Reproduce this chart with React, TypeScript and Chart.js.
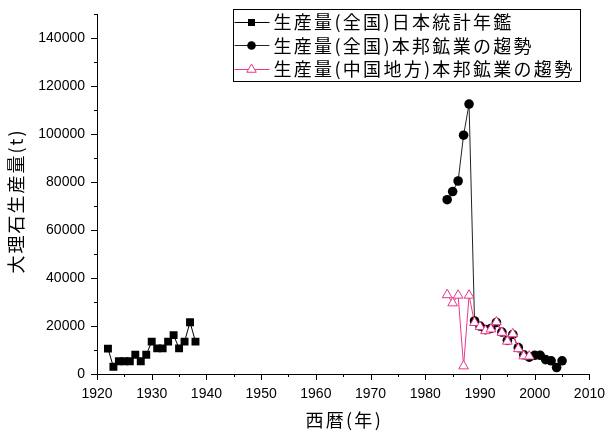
import React, { useEffect, useRef } from 'react';
import { Chart, registerables } from 'chart.js';

Chart.register(...registerables);

// ---- data ----
const seriesLabels = [
  '生産量(全国)日本統計年鑑',
  '生産量(全国)本邦鉱業の趨勢',
  '生産量(中国地方)本邦鉱業の趨勢',
];

const years1 = [1922, 1923, 1924, 1925, 1926, 1927, 1928, 1929, 1930, 1931, 1932, 1933, 1934, 1935, 1936, 1937, 1938];
const values1 = [10600, 3000, 5300, 5300, 5300, 8000, 5300, 8000, 13500, 10700, 10700, 13500, 16200, 10700, 13500, 21600, 13500];

const years2 = [1984, 1985, 1986, 1987, 1988, 1989, 1990, 1991, 1992, 1993, 1994, 1995, 1996, 1997, 1998, 1999, 2000, 2001, 2002, 2003, 2004, 2005];
const values2 = [72700, 76100, 80500, 99600, 112600, 22100, 20000, 18500, 19000, 21500, 17500, 14000, 16500, 11000, 8000, 7000, 7800, 7800, 6000, 5500, 2700, 5500];

const years3 = [1984, 1985, 1986, 1987, 1988, 1989, 1990, 1991, 1992, 1993, 1994, 1995, 1996, 1997, 1998, 1999];
const values3 = [33000, 29600, 32800, 3300, 32800, 21400, 19700, 18000, 18700, 21700, 17300, 13600, 16700, 10500, 7500, 7400];

const xMin = 1920;
const xMax = 2010;
const xStep = 5;
const xLabelStep = 10;
const yMin = 0;
const yMax = 150000;
const yStep = 10000;
const yLabelStep = 20000;
const yLabelMax = 140000;

const xTitle = '西暦(年)';
const yTitle = '大理石生産量(t)';

const PINK = '#e8388a';
const CJK = '"Noto Sans CJK JP", "Noto Sans CJK SC", sans-serif';
const NUM = '"Liberation Sans", Arial, sans-serif';

const markerStyles = [
  { style: 'rect', fill: '#000', stroke: '#000', line: '#000' },
  { style: 'circle', fill: '#000', stroke: '#000', line: '#222' },
  { style: 'triangle', fill: '#fff', stroke: PINK, line: PINK },
];

function drawMarker(ctx: CanvasRenderingContext2D, kind: string, x: number, y: number, fill: string, stroke: string) {
  ctx.save();
  ctx.fillStyle = fill;
  ctx.strokeStyle = stroke;
  ctx.lineWidth = 1;
  ctx.beginPath();
  if (kind === 'rect') {
    ctx.rect(x - 3.5, y - 3.5, 7, 7);
    ctx.fill();
  } else if (kind === 'circle') {
    ctx.arc(x, y, 4.3, 0, Math.PI * 2);
    ctx.fill();
  } else {
    const r = 5.5;
    ctx.moveTo(x, y - r);
    ctx.lineTo(x + r * 0.866, y + r * 0.5);
    ctx.lineTo(x - r * 0.866, y + r * 0.5);
    ctx.closePath();
    ctx.fill();
    ctx.stroke();
  }
  ctx.restore();
}

function setSpacing(ctx: any, px: number) {
  try {
    ctx.letterSpacing = `${px}px`;
  } catch (e) {
    /* ignore */
  }
}

const ticksPlugin = {
  id: 'customTicks',
  afterDraw(chart: any) {
    const { ctx, chartArea, scales } = chart;
    const xs = scales.x;
    const ys = scales.y;
    ctx.save();
    ctx.strokeStyle = '#000';
    ctx.lineWidth = 1;
    ctx.beginPath();
    for (let v = xMin; v <= xMax; v += xStep) {
      const px = Math.round(xs.getPixelForValue(v)) + 0.5;
      const len = v % xLabelStep === 0 ? 6 : 3;
      ctx.moveTo(px, chartArea.bottom);
      ctx.lineTo(px, chartArea.bottom + len);
    }
    for (let v = yMin; v <= yMax; v += yStep) {
      const py = Math.round(ys.getPixelForValue(v)) + 0.5;
      const len = v % yLabelStep === 0 ? 6 : 3;
      ctx.moveTo(chartArea.left, py);
      ctx.lineTo(chartArea.left - len, py);
    }
    ctx.stroke();

    // axis titles
    ctx.fillStyle = '#000';
    ctx.font = `18px ${CJK}`;
    ctx.textAlign = 'center';
    ctx.textBaseline = 'middle';
    setSpacing(ctx, 2.3);
    const xc = (chartArea.left + chartArea.right) / 2 + 1;
    ctx.fillText(xTitle, xc, 420);

    ctx.save();
    ctx.translate(16, 201);
    ctx.rotate(-Math.PI / 2);
    setSpacing(ctx, 2);
    ctx.fillText(yTitle, 0, 0);
    ctx.restore();
    setSpacing(ctx, 0);
    ctx.restore();
  },
};

const legendPlugin = {
  id: 'boxLegend',
  afterDraw(chart: any) {
    const { ctx } = chart;
    const bx = 233.5;
    const by = 9.5;
    const bw = 347;
    const bh = 72;
    ctx.save();
    ctx.fillStyle = '#fff';
    ctx.fillRect(bx, by, bw, bh);
    ctx.strokeStyle = '#000';
    ctx.lineWidth = 1;
    ctx.strokeRect(bx, by, bw, bh);
    const rowY = [21.5, 45, 68.5];
    ctx.font = `18px ${CJK}`;
    ctx.textBaseline = 'middle';
    ctx.textAlign = 'left';
    seriesLabels.forEach((label, i) => {
      const m = markerStyles[i];
      const y = rowY[i];
      ctx.strokeStyle = m.line;
      ctx.lineWidth = 1;
      ctx.beginPath();
      ctx.moveTo(bx + 1, Math.round(y) + 0.5);
      ctx.lineTo(bx + 36, Math.round(y) + 0.5);
      ctx.stroke();
      drawMarker(ctx, m.style, bx + 18, Math.round(y) + 0.5, m.fill, m.stroke);
      ctx.fillStyle = '#000';
      setSpacing(ctx, 2.3);
      ctx.fillText(label, bx + 40, y + 1);
      setSpacing(ctx, 0);
    });
    ctx.restore();
  },
};

export default function App() {
  const canvasRef = useRef<HTMLCanvasElement | null>(null);

  useEffect(() => {
    document.body.style.margin = '0';
    const canvas = canvasRef.current;
    if (!canvas) return;

    const mk = (xs: number[], ys: number[]) => xs.map((x, i) => ({ x, y: ys[i] }));

    const chart = new Chart(canvas, {
      type: 'scatter',
      data: {
        datasets: [
          {
            label: seriesLabels[0],
            data: mk(years1, values1),
            showLine: true,
            borderColor: markerStyles[0].line,
            borderWidth: 1,
            pointStyle: 'rect',
            pointRadius: 5.6,
            pointBackgroundColor: '#000',
            pointBorderColor: '#000',
            pointBorderWidth: 0,
            order: 2,
          },
          {
            label: seriesLabels[1],
            data: mk(years2, values2),
            showLine: true,
            borderColor: markerStyles[1].line,
            borderWidth: 1,
            pointStyle: 'circle',
            pointRadius: 4.8,
            pointBackgroundColor: '#000',
            pointBorderColor: '#000',
            pointBorderWidth: 0,
            order: 1,
          },
          {
            label: seriesLabels[2],
            data: mk(years3, values3),
            showLine: true,
            borderColor: PINK,
            borderWidth: 1,
            pointStyle: 'triangle',
            pointRadius: 5.6,
            pointBackgroundColor: '#fff',
            pointBorderColor: PINK,
            pointBorderWidth: 1,
            order: 0,
          },
        ],
      },
      options: {
        responsive: false,
        animation: false,
        devicePixelRatio: 1,
        layout: { padding: { top: 7, right: 18, left: 0, bottom: 0 } },
        plugins: {
          legend: { display: false },
          tooltip: { enabled: false },
        },
        scales: {
          x: {
            type: 'linear',
            min: xMin,
            max: xMax,
            grid: { drawOnChartArea: false, drawTicks: true, tickLength: 6, tickColor: 'transparent' },
            border: { color: '#000', width: 1 },
            ticks: {
              stepSize: xStep,
              autoSkip: false,
              maxRotation: 0,
              padding: 6,
              color: '#000',
              font: { family: NUM, size: 14 },
              callback: (v: any) => (Number(v) % xLabelStep === 0 ? String(v) : ''),
            },
            title: { display: false },
            afterFit: (s: any) => {
              s.height = 59;
            },
          },
          y: {
            type: 'linear',
            min: yMin,
            max: yMax,
            grid: { drawOnChartArea: false, drawTicks: true, tickLength: 6, tickColor: 'transparent' },
            border: { color: '#000', width: 1 },
            ticks: {
              stepSize: yStep,
              autoSkip: false,
              padding: 6,
              color: '#000',
              font: { family: NUM, size: 14 },
              callback: (v: any) => {
                const n = Number(v);
                return n % yLabelStep === 0 && n <= yLabelMax ? String(n) : '';
              },
            },
            title: { display: false },
            afterFit: (s: any) => {
              s.width = 97;
            },
          },
        },
      },
      plugins: [ticksPlugin, legendPlugin],
    } as any);

    return () => chart.destroy();
  }, []);

  return (
    <div style={{ width: 611, height: 433 }}>
      <canvas ref={canvasRef} width={611} height={433} style={{ display: 'block' }} />
    </div>
  );
}
